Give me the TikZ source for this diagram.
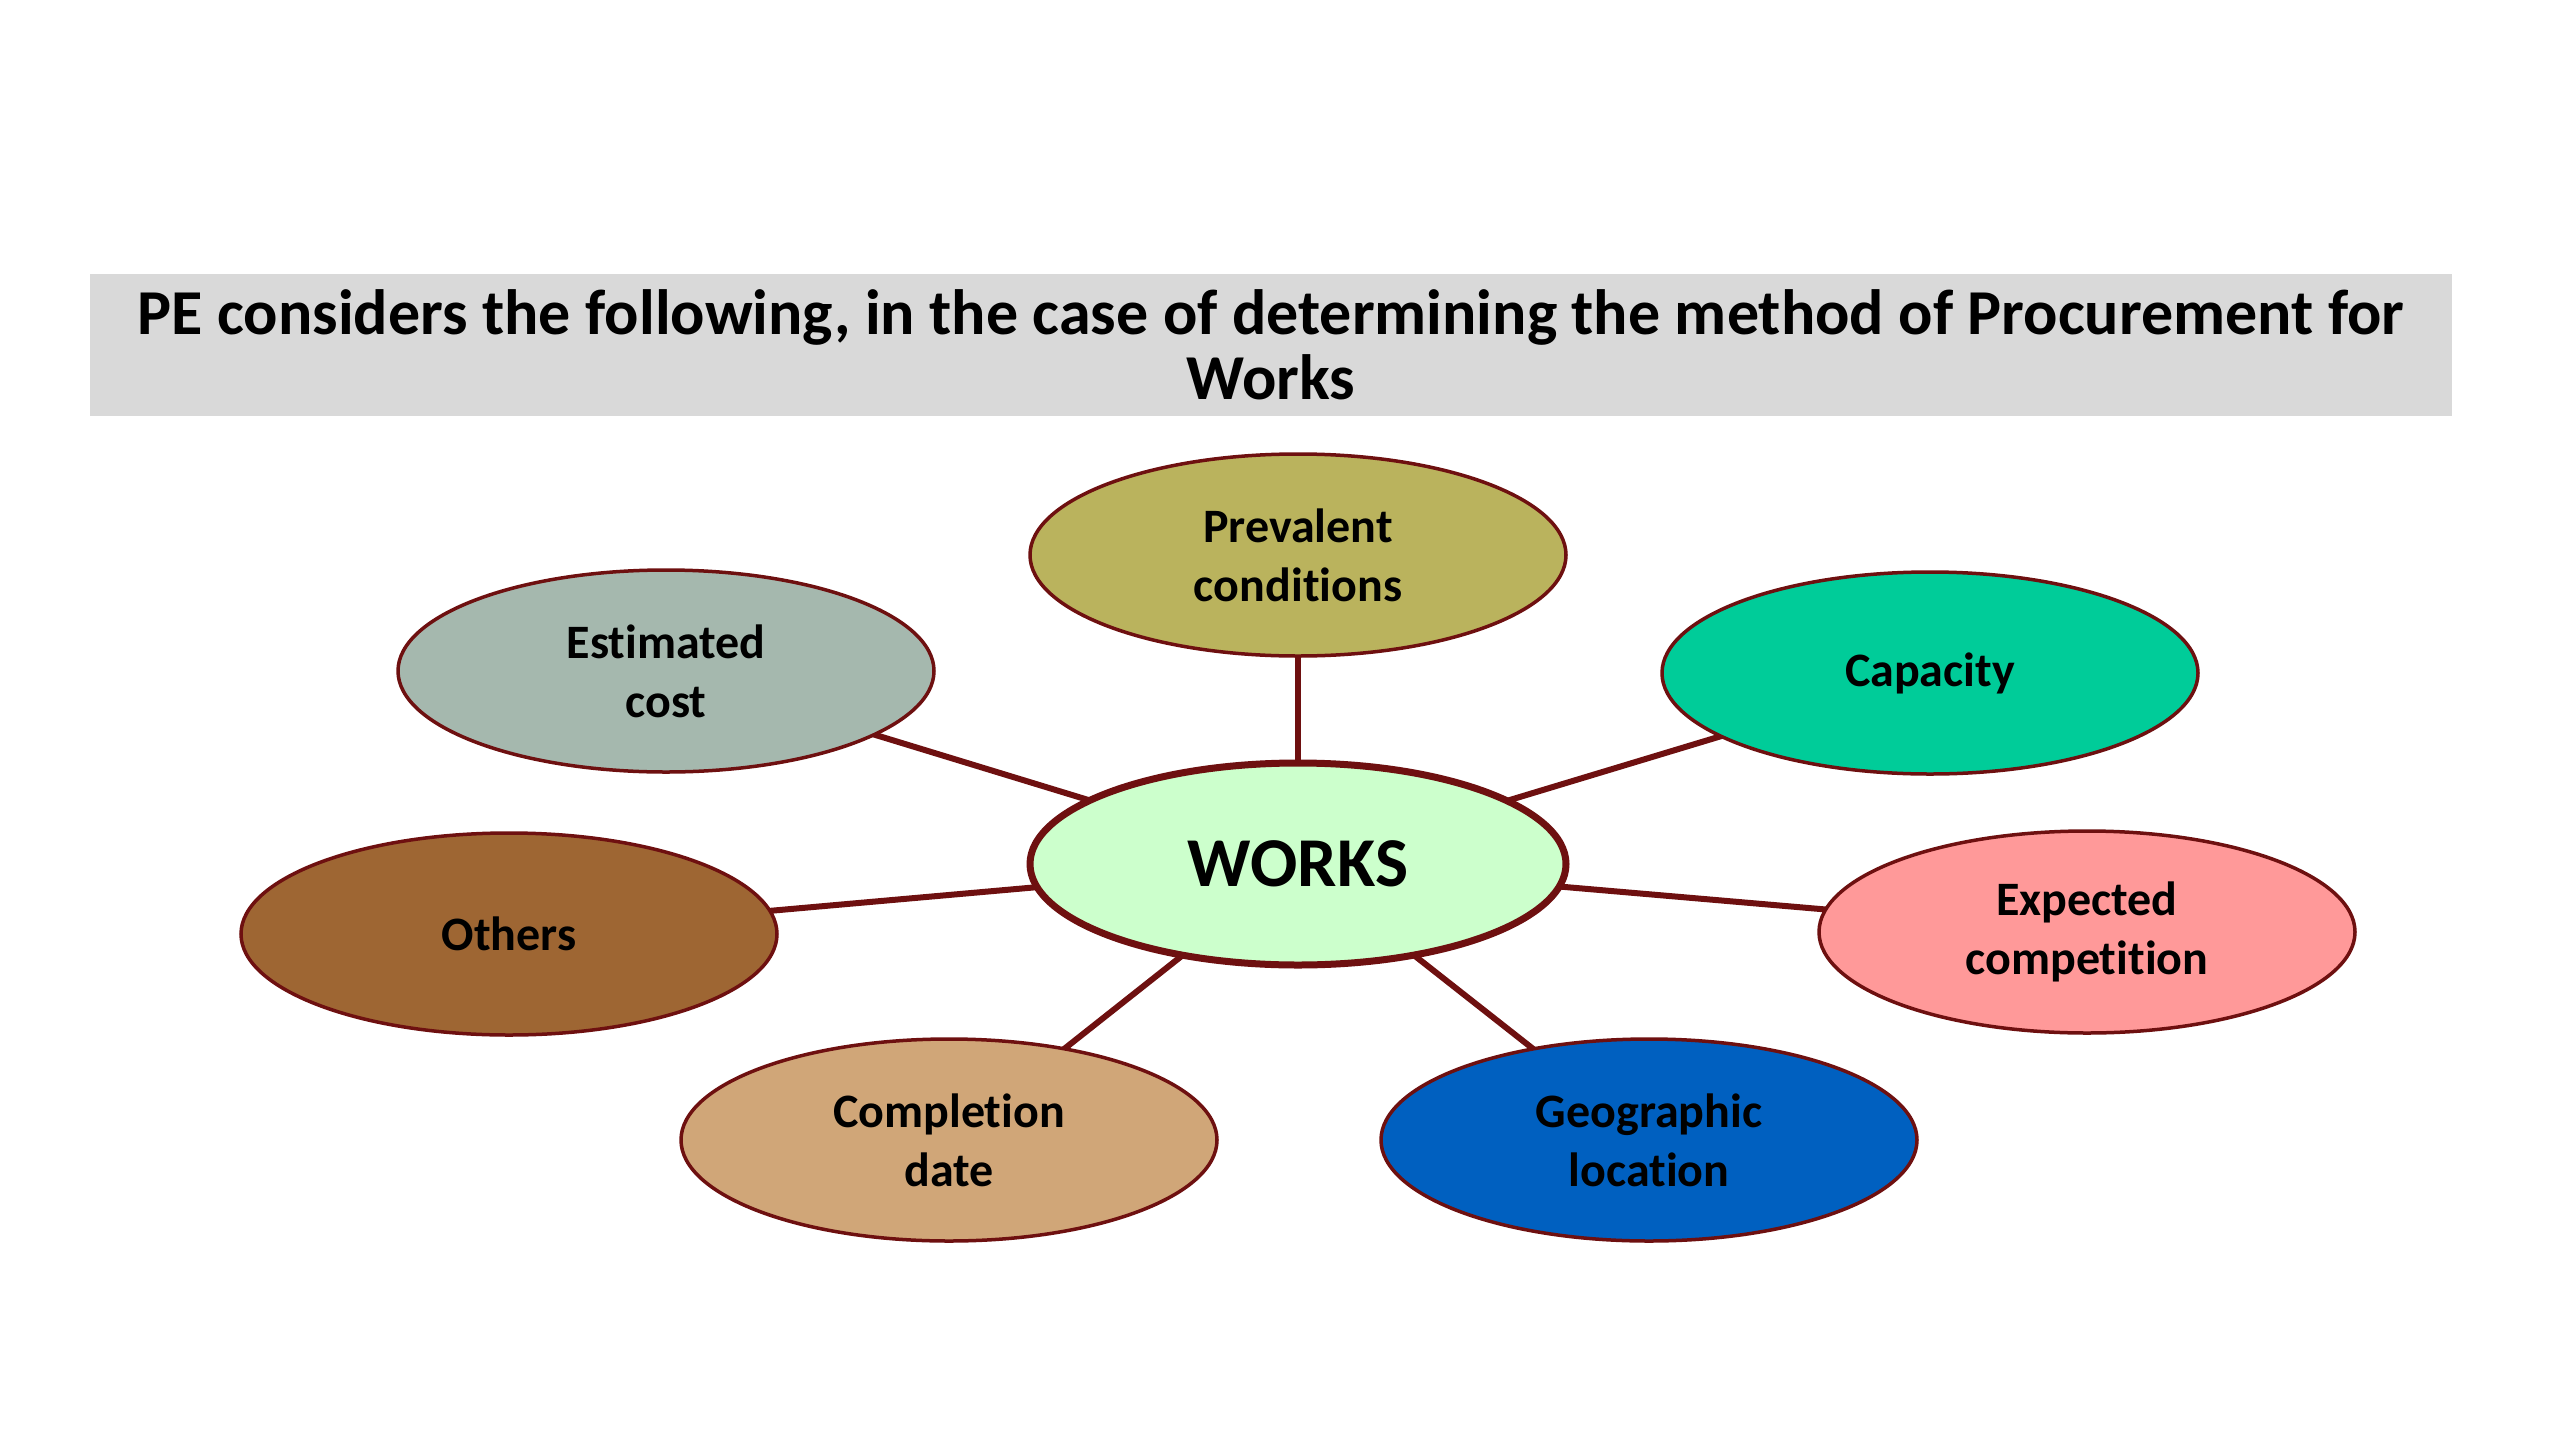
\documentclass[tikz,border=0pt]{standalone}
\usepackage{fontspec}
\setmainfont{Carlito}[Ligatures=NoCommon]
\usetikzlibrary{shapes.geometric,backgrounds}
\definecolor{bordercol}{HTML}{6E1010}
\definecolor{titlebg}{HTML}{D9D9D9}
\definecolor{cPrev}{HTML}{BAB35D}
\definecolor{cEst}{HTML}{A5B8AE}
\definecolor{cCap}{HTML}{00CC99}
\definecolor{cWorks}{HTML}{CCFFCC}
\definecolor{cOth}{HTML}{9E6633}
\definecolor{cExp}{HTML}{FF9999}
\definecolor{cComp}{HTML}{D0A678}
\definecolor{cGeo}{HTML}{0060C0}
\tikzset{
  bubble/.style={ellipse, draw=bordercol, line width=3.5pt, minimum width=536pt, minimum height=202pt, inner sep=0pt, align=center, font=\fontsize{48}{59}\selectfont\bfseries},
  hub/.style={bubble, line width=7pt, font=\fontsize{70}{84}\selectfont\bfseries},
  spoke/.style={draw=bordercol, line width=6pt}
}
\begin{document}
\begin{tikzpicture}[x=1pt,y=-1pt]
\useasboundingbox (0,0) rectangle (2560,1440);
\node[fill=titlebg, minimum width=2362pt, minimum height=142pt, inner sep=0pt, align=center, font=\fontsize{64}{65}\selectfont\bfseries] (title) at (1271,345) {PE considers the following, in the case of determining the method of Procurement for\\Works};
\node[hub, fill=cWorks] (works) at (1298,864) {WORKS};
\node[bubble, fill=cPrev] (prev) at (1298,555) {Prevalent\\conditions};
\node[bubble, fill=cEst] (est) at (666,671) {Estimated\\cost};
\node[bubble, fill=cCap] (cap) at (1930,673) {Capacity};
\node[bubble, fill=cOth] (oth) at (509,934) {Others};
\node[bubble, fill=cExp] (exp) at (2087,932) {Expected\\competition};
\node[bubble, fill=cComp] (comp) at (949,1140) {Completion\\date};
\node[bubble, fill=cGeo] (geo) at (1649,1140) {Geographic\\location};
\begin{scope}[on background layer]
\fill[white] (0,0) rectangle (2560,1440);
\draw[spoke] (works.center) -- (prev.center);
\draw[spoke] (works.center) -- (est.center);
\draw[spoke] (works.center) -- (cap.center);
\draw[spoke] (works.center) -- (oth.center);
\draw[spoke] (works.center) -- (exp.center);
\draw[spoke] (works.center) -- (comp.center);
\draw[spoke] (works.center) -- (geo.center);
\end{scope}
\end{tikzpicture}
\end{document}
